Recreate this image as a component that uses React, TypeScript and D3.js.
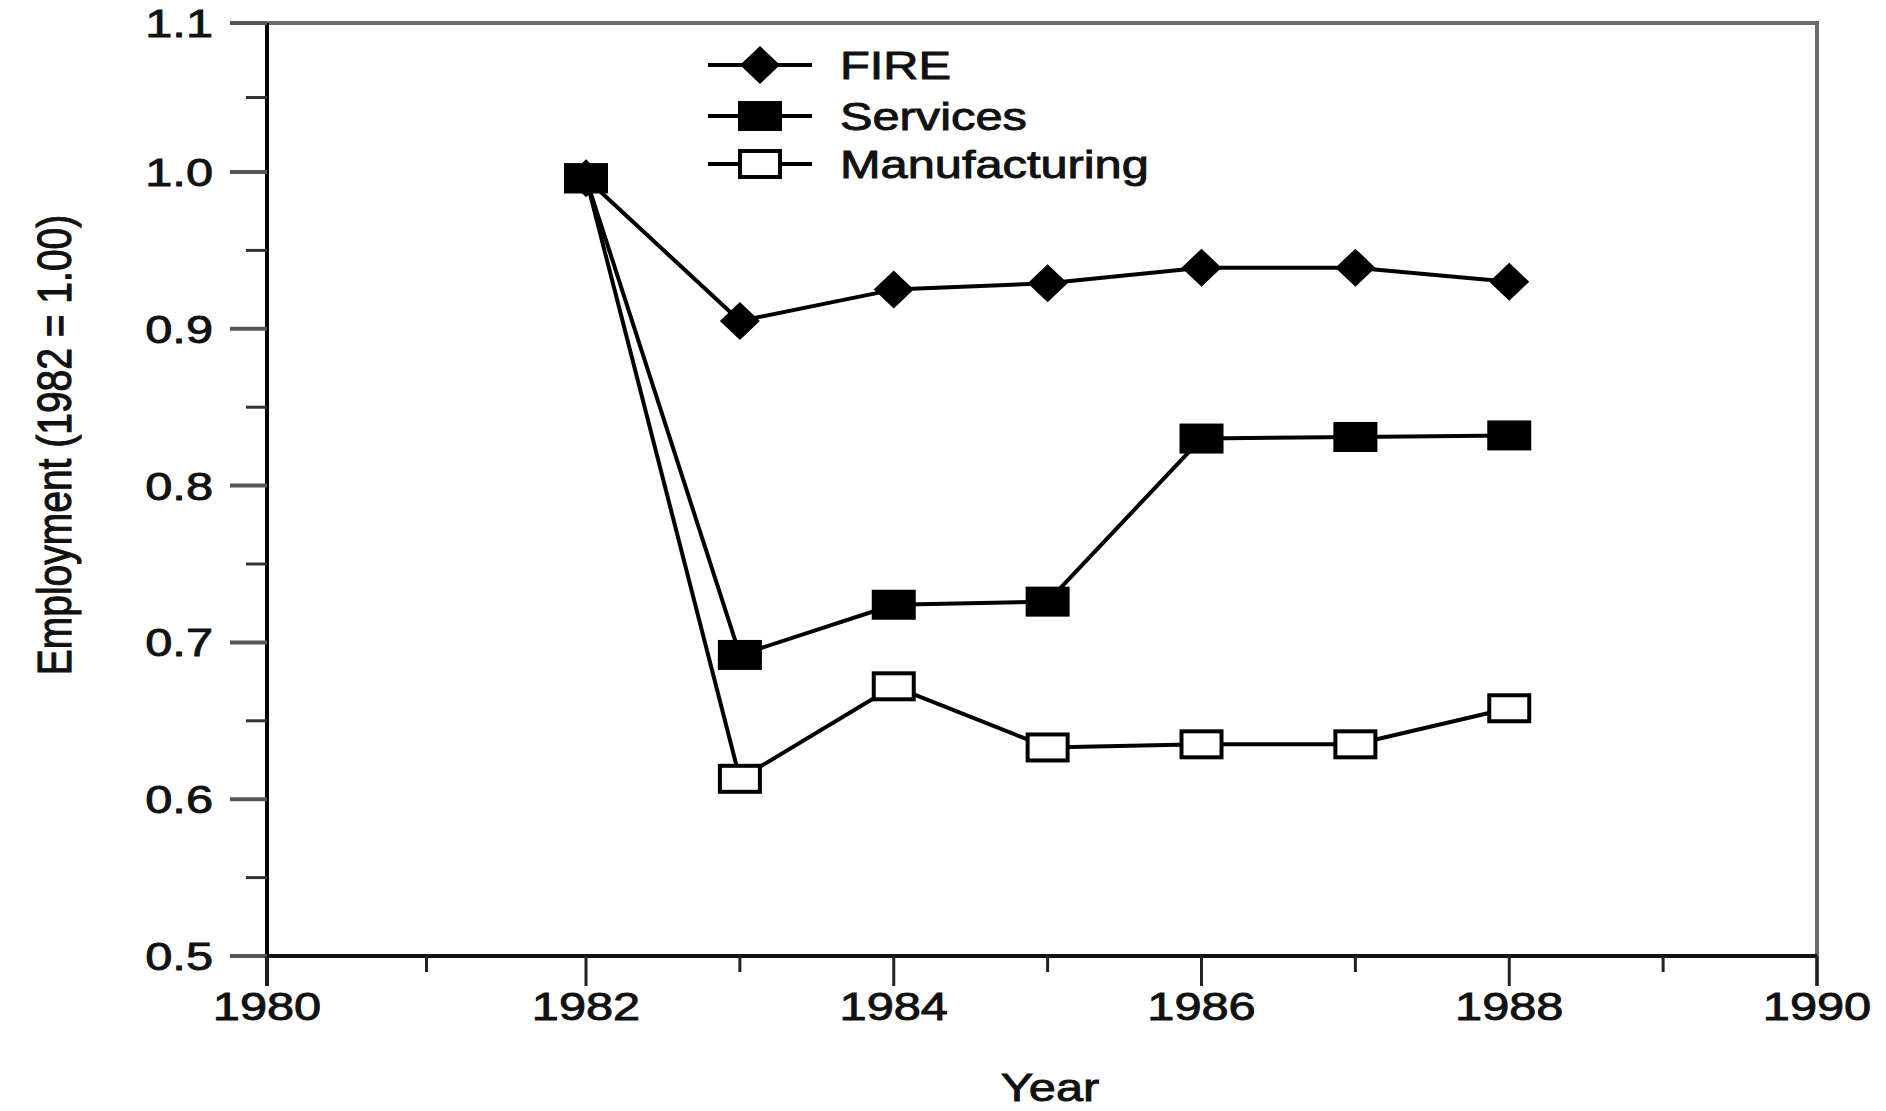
import React from "react";
import * as d3 from "d3";

const years = [1982, 1983, 1984, 1985, 1986, 1987, 1988];
const fireValues = [0.996, 0.905, 0.925, 0.929, 0.939, 0.939, 0.93];
const servicesValues = [0.996, 0.692, 0.724, 0.726, 0.83, 0.831, 0.832];
const manufacturingValues = [0.996, 0.613, 0.672, 0.633, 0.635, 0.635, 0.658];
const seriesNames = ["FIRE", "Services", "Manufacturing"];
const yTickLabels = ["0.5", "0.6", "0.7", "0.8", "0.9", "1.0", "1.1"];
const xTickLabels = ["1980", "1982", "1984", "1986", "1988", "1990"];

const W = 1886;
const H = 1111;
const left = 267;
const right = 1817;
const top = 23;
const bottom = 956;
const FS = 39;
const SX = 1.25;
const FONT = "'Liberation Sans', Arial, Helvetica, sans-serif";

function Txt({ x, y, anchor, children }: any) {
  return (
    <text
      transform={`translate(${x},${y}) scale(${SX},1)`}
      textAnchor={anchor}
      fontFamily={FONT}
      fontSize={FS}
      fill="#111"
      stroke="#111"
      strokeWidth={0.9}
    >
      {children}
    </text>
  );
}

function Marker({ kind, x, y }: any) {
  if (kind === 0) {
    const w = 20, h = 19;
    return (
      <path
        d={`M${x},${y - h}L${x + w},${y}L${x},${y + h}L${x - w},${y}Z`}
        fill="#000"
      />
    );
  }
  if (kind === 1) {
    return <rect x={x - 22} y={y - 15} width={44} height={30} fill="#000" />;
  }
  return (
    <rect
      x={x - 20}
      y={y - 13}
      width={40}
      height={26}
      fill="#fff"
      stroke="#000"
      strokeWidth={4}
    />
  );
}

export default function App() {
  const x = d3.scaleLinear().domain([1980, 1982, 1990]).range([left, 586, right]);
  const y = d3.scaleLinear().domain([0.5, 1.0, 1.1]).range([bottom, 172, top]);
  const series = [fireValues, servicesValues, manufacturingValues];
  const line = d3
    .line<number>()
    .x((_, i) => x(years[i]))
    .y((d) => y(d));

  const yMajor = d3.range(0, 7).map((i) => 0.5 + i * 0.1);
  const yMinor = d3.range(0, 6).map((i) => 0.55 + i * 0.1);
  const xAll = d3.range(1980, 1991);
  const markerOrder = [0, 2, 1];

  const legendRows = [65, 116, 164];

  return (
    <svg
      width={W}
      height={H}
      style={{ position: "absolute", left: 0, top: 0, background: "#fff" }}
    >
      <rect x={0} y={0} width={W} height={H} fill="#fff" />
      {/* frame */}
      <line x1={230} x2={right + 2} y1={top} y2={top} stroke="#6a6a6a" strokeWidth={4} />
      <line x1={right} x2={right} y1={top} y2={bottom + 30} stroke="#6a6a6a" strokeWidth={4} />
      <line x1={230} x2={right} y1={bottom} y2={bottom} stroke="#111" strokeWidth={4} />
      <line x1={left} x2={left} y1={top} y2={bottom + 30} stroke="#000" strokeWidth={4} />
      {/* y ticks */}
      {yMajor.map((v, i) => (
        <line key={"ym" + i} x1={230} x2={left} y1={y(v)} y2={y(v)} stroke="#555" strokeWidth={4} />
      ))}
      {yMinor.map((v, i) => (
        <line key={"yn" + i} x1={246} x2={left} y1={y(v)} y2={y(v)} stroke="#333" strokeWidth={3} />
      ))}
      {yMajor.map((v, i) => (
        <Txt key={"yl" + i} x={213} y={y(v) + 14} anchor="end">
          {yTickLabels[i]}
        </Txt>
      ))}
      {/* x ticks */}
      {xAll.map((yr) => (
        <line
          key={"xt" + yr}
          x1={x(yr)}
          x2={x(yr)}
          y1={bottom}
          y2={bottom + (yr % 2 === 0 ? 30 : 16)}
          stroke="#222"
          strokeWidth={3}
        />
      ))}
      {xTickLabels.map((lab) => (
        <Txt key={"xl" + lab} x={x(+lab)} y={1020} anchor="middle">
          {lab}
        </Txt>
      ))}
      <Txt x={1050} y={1101} anchor="middle">
        Year
      </Txt>
      <text
        transform={`translate(53,445) scale(${SX},1) rotate(-90)`}
        textAnchor="middle"
        dy="0.36em"
        fontFamily={FONT}
        fontSize={FS}
        fill="#111"
        stroke="#111"
        strokeWidth={0.9}
      >
        Employment (1982 = 1.00)
      </text>
      {/* series */}
      {series.map((vals, si) => (
        <path key={"l" + si} d={line(vals) || ""} fill="none" stroke="#000" strokeWidth={4} strokeLinejoin="round" />
      ))}
      {markerOrder.map((si) =>
        series[si].map((v, i) => <Marker key={`m${si}-${i}`} kind={si} x={x(years[i])} y={y(v)} />)
      )}
      {/* legend */}
      {seriesNames.map((name, i) => (
        <g key={"lg" + i}>
          <line x1={708} x2={812} y1={legendRows[i]} y2={legendRows[i]} stroke="#000" strokeWidth={4} />
          <Marker kind={i} x={760} y={legendRows[i]} />
          <Txt x={840} y={legendRows[i] + 14} anchor="start">
            {name}
          </Txt>
        </g>
      ))}
    </svg>
  );
}
